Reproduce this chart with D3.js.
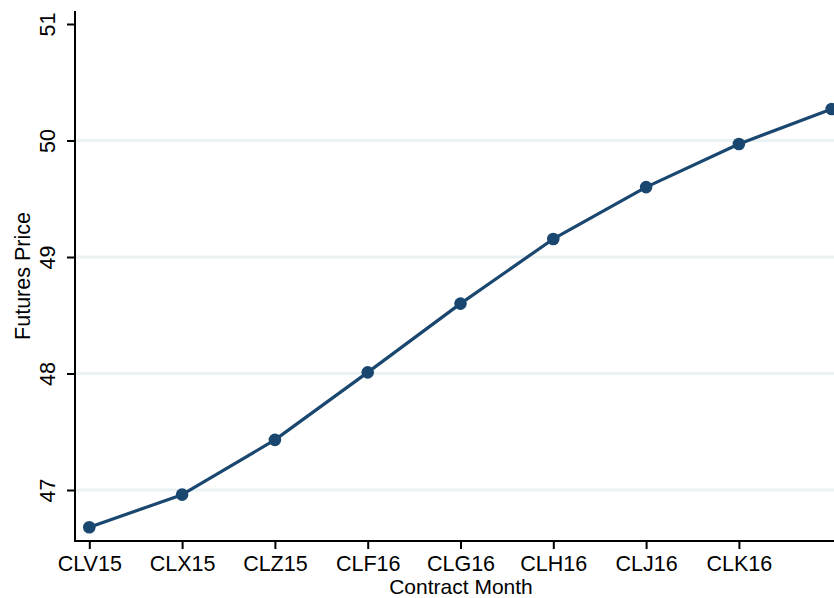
<!DOCTYPE html>
<html>
<head>
<meta charset="utf-8">
<script src="https://cdn.jsdelivr.net/npm/d3@7"></script>
<style>
  html, body { margin: 0; padding: 0; background: #fff; }
  text { font-family: "Liberation Sans", Arial, Helvetica, sans-serif; fill: #000; }
</style>
</head>
<body>
<svg id="chart" width="834" height="598"></svg>
<script>
// Data
const tickLabels = ["CLV15", "CLX15", "CLZ15", "CLF16", "CLG16", "CLH16", "CLJ16", "CLK16"];
const contractIndex = [0, 1, 2, 3, 4, 5, 6, 7, 8];
const prices = [46.68, 46.96, 47.43, 48.01, 48.60, 49.155, 49.60, 49.97, 50.27];
const yTicks = [47, 48, 49, 50, 51];
const gridValues = [47, 48, 49, 50];

(function () {
const svg = d3.select("#chart");
const W = 834, H = 598;
const mLeft = 75, mBottom = 541, mTop = 11;

const x = d3.scaleLinear().domain([0, 8]).range([89.3, 831.7]);
const y = d3.scaleLinear().domain([47, 51]).range([490, 24]);

const navy = "#1a476f";

// gridlines
svg.append("g").selectAll("line").data(gridValues).join("line")
  .attr("x1", mLeft).attr("x2", W)
  .attr("y1", d => y(d)).attr("y2", d => y(d))
  .attr("stroke", "#eaf2f3").attr("stroke-width", 3);

// Y axis
const yAxis = d3.axisLeft(y).tickValues(yTicks).tickSize(8).tickPadding(0).tickFormat(d3.format("d"));
const gy = svg.append("g").attr("transform", `translate(${mLeft},0)`).call(yAxis);
gy.select(".domain").remove();
gy.selectAll(".tick line").attr("stroke", "#000").attr("stroke-width", 2);
gy.selectAll(".tick text")
  .attr("transform", "translate(-20,0) rotate(-90)")
  .attr("x", 0).attr("y", 0).attr("dy", "0")
  .attr("text-anchor", "middle")
  .style("font-size", "21.5px");
svg.append("line").attr("x1", mLeft).attr("x2", mLeft).attr("y1", mTop).attr("y2", mBottom + 1)
  .attr("stroke", "#000").attr("stroke-width", 2);

// X axis
const xAxis = d3.axisBottom(x).tickValues(contractIndex.slice(0, tickLabels.length))
  .tickSize(8).tickPadding(4).tickFormat(i => tickLabels[i]);
const gx = svg.append("g").attr("transform", `translate(0,${mBottom})`).call(xAxis);
gx.select(".domain").remove();
gx.selectAll(".tick line").attr("stroke", "#000").attr("stroke-width", 2);
gx.selectAll(".tick text").style("font-size", "21.5px").attr("dy", "0.86em");
svg.append("line").attr("x1", mLeft - 1).attr("x2", W).attr("y1", mBottom).attr("y2", mBottom)
  .attr("stroke", "#000").attr("stroke-width", 2);

// Axis titles
svg.append("text").attr("x", 461).attr("y", 594).attr("text-anchor", "middle")
  .style("font-size", "21px").text("Contract Month");
svg.append("text").attr("transform", `translate(30,${(mTop + mBottom) / 2}) rotate(-90)`)
  .attr("text-anchor", "middle").style("font-size", "21.5px").text("Futures Price");

// Line
const line = d3.line().x((d, i) => x(contractIndex[i])).y(d => y(d));
svg.append("path").datum(prices).attr("d", line)
  .attr("fill", "none").attr("stroke", navy).attr("stroke-width", 3.2)
  .attr("stroke-linejoin", "round");

svg.append("g").selectAll("circle").data(prices).join("circle")
  .attr("cx", (d, i) => x(contractIndex[i])).attr("cy", d => y(d))
  .attr("r", 6.3).attr("fill", navy);
})();
</script>
</body>
</html>
